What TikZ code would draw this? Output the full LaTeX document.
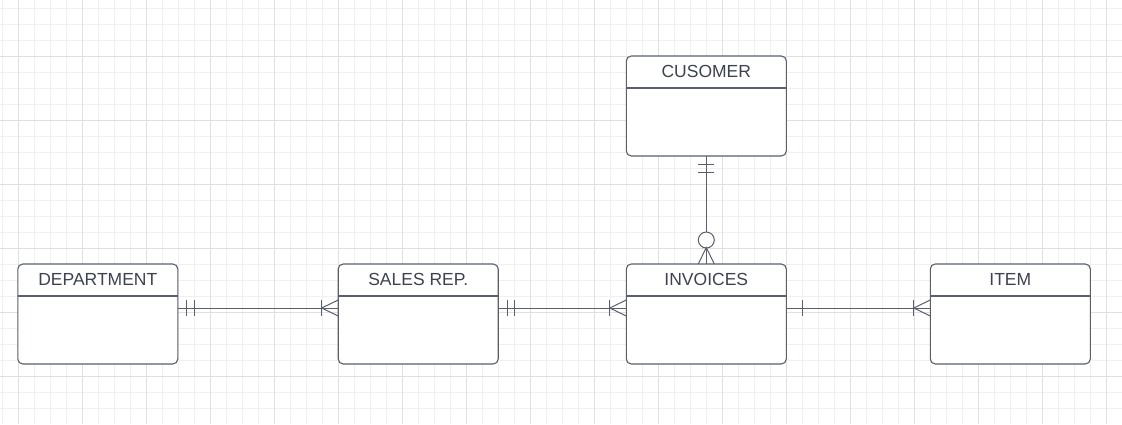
\documentclass[tikz,border=0pt]{standalone}
\usepackage{fontspec}
\setmainfont{Liberation Sans}
\usetikzlibrary{calc}

\definecolor{edgec}{HTML}{5A5F6B}
\definecolor{textc}{HTML}{3D4250}
\definecolor{gridlo}{HTML}{F0F0F0}
\definecolor{gridhi}{HTML}{E0E0E0}

\begin{document}
\begin{tikzpicture}[x=1pt,y=-1pt,
    gridminor/.style={draw=gridlo, line width=0.8pt},
    gridmajor/.style={draw=gridhi, line width=1pt},
    entity/.style={draw=edgec, fill=white, line width=1.1pt, rounded corners=5pt,
      minimum width=160pt, minimum height=100pt, inner sep=0pt, outer sep=0pt},
    title/.style={text=textc, font=\fontsize{17.5}{20}\selectfont, inner sep=0pt},
    link/.style={draw=edgec, line width=1pt}]
    \useasboundingbox (0,0) rectangle (1122,424);

    % ---- Background grid ----
    \foreach \x in {2.3,18.3,...,1122}
      \draw[gridminor] (\x,0) -- (\x,424);
    \foreach \y in {8.7,24.7,...,424}
      \draw[gridminor] (0,\y) -- (1122,\y);
    \foreach \x in {18.3,82.3,...,1122}
      \draw[gridmajor] (\x,0) -- (\x,424);
    \foreach \y in {56.7,120.7,...,424}
      \draw[gridmajor] (0,\y) -- (1122,\y);

    % ---- Entities ----
    \foreach \n/\x/\y/\t in {dept/97.8/314/DEPARTMENT, sales/418.2/314/SALES REP.,
        inv/706.3/314/INVOICES, item/1010.3/314/ITEM, cust/706.3/106/CUSOMER} {
      \node[entity] (\n) at (\x,\y) {};
      \node[title] (\n-t) at ($(\n.north)+(0,15)$) {\t};
      \draw[link, line width=1.1pt] ($(\n.north west)+(0,32)$) -- ($(\n.north east)+(0,32)$);
    }

    % ---- Department -- Sales rep. ----
    \coordinate (ds) at ($(dept.east)+(0,-6)$);
    \coordinate (sd) at ($(sales.west)+(0,-6)$);
    \draw[link] (ds) -- (sd);
    \draw[link] ($(ds)+(9,-8)$) -- ($(ds)+(9,8)$);
    \draw[link] ($(ds)+(16.5,-8)$) -- ($(ds)+(16.5,8)$);
    \draw[link] ($(sd)+(-16.5,-8)$) -- ($(sd)+(-16.5,8)$);
    \draw[link] ($(sd)+(0,-8)$) -- ($(sd)+(-16.5,0)$) -- ($(sd)+(0,8)$);

    % ---- Sales rep. -- Invoices ----
    \coordinate (si) at ($(sales.east)+(0,-6)$);
    \coordinate (is) at ($(inv.west)+(0,-6)$);
    \draw[link] (si) -- (is);
    \draw[link] ($(si)+(9,-8)$) -- ($(si)+(9,8)$);
    \draw[link] ($(si)+(16.5,-8)$) -- ($(si)+(16.5,8)$);
    \draw[link] ($(is)+(-16.5,-8)$) -- ($(is)+(-16.5,8)$);
    \draw[link] ($(is)+(0,-8)$) -- ($(is)+(-16.5,0)$) -- ($(is)+(0,8)$);

    % ---- Invoices -- Item ----
    \coordinate (it) at ($(inv.east)+(0,-6)$);
    \coordinate (ti) at ($(item.west)+(0,-6)$);
    \draw[link] (it) -- (ti);
    \draw[link] ($(it)+(16.5,-8)$) -- ($(it)+(16.5,8)$);
    \draw[link] ($(ti)+(-16.5,-8)$) -- ($(ti)+(-16.5,8)$);
    \draw[link] ($(ti)+(0,-8)$) -- ($(ti)+(-16.5,0)$) -- ($(ti)+(0,8)$);

    % ---- Cusomer -- Invoices ----
    \coordinate (ci) at (cust.south);
    \coordinate (ic) at (inv.north);
    \draw[link] (ci) -- (ic);
    \draw[link] ($(ci)+(-8,8.5)$) -- ($(ci)+(8,8.5)$);
    \draw[link] ($(ci)+(-8,16.5)$) -- ($(ci)+(8,16.5)$);
    \draw[link, fill=white] ($(ic)+(0,-24)$) circle[radius=8];
    \draw[link] ($(ic)+(-8,0)$) -- ($(ic)+(0,-16.5)$) -- ($(ic)+(8,0)$);
  \end{tikzpicture}
\end{document}
